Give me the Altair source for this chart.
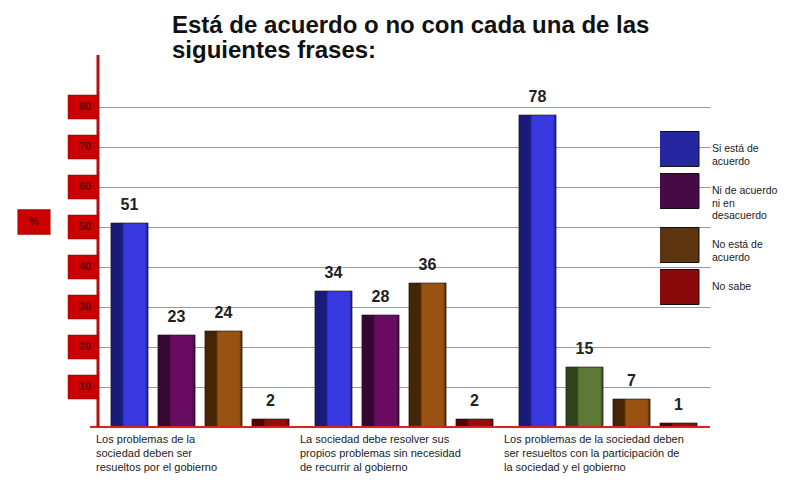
import altair as alt
import pandas as pd

# ---------------- data ----------------
groups = [
    "Los problemas de la|sociedad deben ser|resueltos por el gobierno",
    "La sociedad debe resolver sus|propios problemas sin necesidad|de recurrir al gobierno",
    "Los problemas de la sociedad deben|ser resueltos con la participación de|la sociedad y el gobierno",
]
series = ["Si está de|acuerdo", "Ni de acuerdo|ni en|desacuerdo", "No está de|acuerdo", "No sabe"]
values_g1 = [51, 23, 24, 2]
values_g2 = [34, 28, 36, 2]
values_g3 = [78, 15, 7, 1]
y_ticks = [10, 20, 30, 40, 50, 60, 70, 80]
title_lines = ["Está de acuerdo o no con cada una de las", "siguientes frases:"]

# ---------------- styles ----------------
palette = {  # key: (dark, light)
    "blue": ("#1a1a78", "#3838e0"),
    "purple": ("#340832", "#6a0c62"),
    "brown": ("#442606", "#9a5212"),
    "red": ("#500505", "#8e1010"),
    "green": ("#30441c", "#5c7a36"),
}
series_key = {series[0]: "blue", series[1]: "purple", series[2]: "brown", series[3]: "red"}
legend_cols = ["#2626a0", "#480a46", "#5c3410", "#880a0a"]

rows = []
for gi, (g, vals) in enumerate(zip(groups, [values_g1, values_g2, values_g3])):
    for s, v in zip(series, vals):
        key = series_key[s]
        if gi == 2 and s == series[1]:
            key = "green"
        rows.append({"group": g, "series": s, "value": v, "key": key})
df = pd.DataFrame(rows)
ticks_df = pd.DataFrame({"tick": y_ticks})
title_df = pd.DataFrame({"t": [0]})

W, H = 612, 360
xs = alt.X("group:N", sort=groups, scale=alt.Scale(paddingInner=0, paddingOuter=0),
           axis=alt.Axis(title=None, domain=False, ticks=False, labelAlign="left", labelAngle=0,
                         labelOffset=-104, labelBaseline="top", labelPadding=6,
                         labelFontSize=11, labelLineHeight=14, labelColor="#222",
                         labelFont="Liberation Sans", labelLimit=260, labelOverlap=False,
                         labelBound=False, labelFlush=False,
                         labelExpr="split(datum.label, '|')"))
xo = alt.XOffset("series:N", sort=series, scale=alt.Scale(paddingInner=0.21, paddingOuter=0.275))
ys = alt.Y("value:Q", scale=alt.Scale(domain=[0, 90]),
           axis=alt.Axis(title=None, labels=False, ticks=False, domain=False,
                         values=y_ticks, grid=True, gridColor="#b09090", gridWidth=1))

base = alt.Chart(df)


def grad(dark, light):
    return alt.LinearGradient(
        gradient="linear", x1=0, y1=0, x2=1, y2=0,
        stops=[alt.GradientStop(offset=0, color=dark), alt.GradientStop(offset=0.3, color=dark),
               alt.GradientStop(offset=0.36, color=light), alt.GradientStop(offset=0.92, color=light),
               alt.GradientStop(offset=1, color=dark)])


bar_layers = []
for key, (dk, lt) in palette.items():
    bar_layers.append(
        base.transform_filter(alt.datum.key == key).mark_bar(
            fill=grad(dk, lt), stroke="#101010", strokeWidth=0.6).encode(
            x=xs, xOffset=xo, y=ys, y2=alt.datum(0)))

labels = base.mark_text(dy=-10, baseline="bottom", fontSize=16, fontWeight="bold",
                        font="Liberation Sans", color="#222").encode(
    x=xs, xOffset=xo, y=alt.Y("value:Q"), text="value:Q")

legend_layer = base.mark_point(filled=True, opacity=0).encode(
    x=xs, xOffset=xo, y=alt.Y("value:Q"),
    color=alt.Color("series:N", sort=series,
                    scale=alt.Scale(domain=series, range=legend_cols),
                    legend=alt.Legend(title=None, orient="none", legendX=562, legendY=63,
                                      padding=0, symbolType="M-1.2,-1H1.2V1H-1.2Z",
                                      symbolSize=1225, symbolOpacity=1,
                                      symbolStrokeColor="#111", symbolStrokeWidth=1,
                                      labelOffset=16, labelFontSize=10.5,
                                      labelColor="#222", labelFont="Liberation Sans",
                                      labelExpr="split(datum.label, '|')", rowPadding=4,
                                      clipHeight=38, labelLimit=120)))

tick_boxes = alt.Chart(ticks_df).mark_point(
    shape="M-1.25,-1H1.25V1H-1.25Z", filled=True, opacity=1, size=576,
    color="#cc0000", stroke="#880000", strokeWidth=0.5).encode(
    x=alt.value(-15), y=alt.Y("tick:Q"))
tick_text = alt.Chart(ticks_df).mark_text(fontSize=11, color="#6a0000",
                                          font="Liberation Sans", fontWeight="bold").encode(
    x=alt.value(-13), y=alt.Y("tick:Q"), text="tick:Q")

pct_box = alt.Chart(ticks_df).transform_filter("datum.tick == 50").mark_point(
    shape="M-1.3,-1H1.3V1H-1.3Z", filled=True, opacity=1, size=625,
    color="#cc0000", stroke="#880000", strokeWidth=0.5).encode(
    x=alt.value(-64), y=alt.value(155))
pct_text = alt.Chart(ticks_df).transform_filter("datum.tick == 50").mark_text(
    fontSize=11, color="#6a0000", font="Liberation Sans", fontWeight="bold", text="%").encode(
    x=alt.value(-64), y=alt.value(155))

axis_rule = alt.Chart(ticks_df).transform_filter("datum.tick == 10").mark_rule(
    color="#b81010", strokeWidth=3).encode(x=alt.value(0), y=alt.value(-12), y2=alt.value(H))
base_rule = alt.Chart(ticks_df).transform_filter("datum.tick == 10").mark_rule(
    color="#e02020", strokeWidth=2).encode(x=alt.value(-8), x2=alt.value(W), y=alt.value(H))

title = alt.Chart(title_df).mark_text(
    text=title_lines, align="left", baseline="alphabetic", fontSize=24, lineHeight=25,
    font="Liberation Sans", fontWeight="bold", color="#111").encode(
    x=alt.value(74), y=alt.value(-34))

chart = alt.layer(
    *bar_layers, labels, legend_layer, base_rule, axis_rule,
    tick_boxes, tick_text, pct_box, pct_text, title
).properties(
    width=W, height=H,
    padding={"left": 90, "top": 59, "right": 90, "bottom": 55},
    autosize=alt.AutoSizeParams(type="none"),
    background="white",
).configure_view(stroke=None)

chart.save("out.html", embed_options={"renderer": "svg", "actions": False})
